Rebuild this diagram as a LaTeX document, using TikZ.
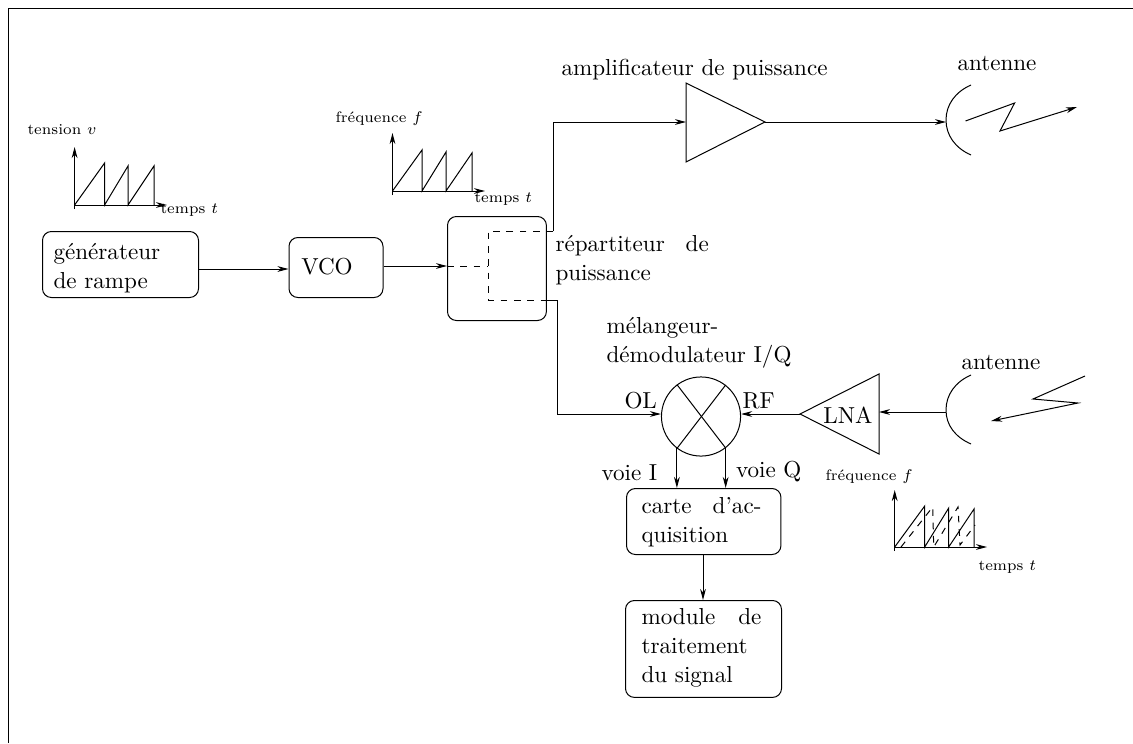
\documentclass[tikz,border=0pt]{standalone}
\usetikzlibrary{arrows.meta}
\tikzset{
  every node/.style={font=\fontsize{10.4}{13.2}\selectfont},
  boite/.style={draw, rounded corners=4pt, inner sep=0pt, anchor=north west},
  texte/.style={text width=#1, align=justify, inner sep=0pt, anchor=north west},
  petit/.style={font=\fontsize{6.8}{8}\selectfont, inner sep=0pt},
}
\begin{document}
\begin{tikzpicture}[x=0.45pt, y=-0.45pt, line width=0.45pt, >={Stealth[length=5pt,width=2.6pt,inset=1.6pt]}]
  \useasboundingbox (0,0) rectangle (1133,743);
  \draw (8,743) -- (8,8) -- (1133,8);
  % blocs
  \node[boite, minimum width=70.2pt, minimum height=29.7pt] (gen) at (42,231) {};
  \node[texte=60pt, anchor=west] (gentxt) at (53,268) {g\'en\'erateur\\ de rampe};
  \node[boite, minimum width=42.3pt, minimum height=27pt] (vco) at (288.5,237) {};
  \node[inner sep=0pt] (vcotxt) at (327,267) {VCO};
  \node[boite, minimum width=44.5pt, minimum height=46.8pt] (rep) at (447,216) {};
  \node[texte=69pt, anchor=west] (reptxt) at (555,260) {r\'epartiteur de puissance};
  \node[boite, minimum width=69.5pt, minimum height=29.7pt] (carte) at (626,488) {};
  \node[texte=54pt, anchor=west] (cartetxt) at (641,522) {carte d'ac\-quisition};
  \node[boite, minimum width=70.2pt, minimum height=43.6pt] (mod) at (625,600) {};
  \node[texte=54pt, anchor=west] (modtxt) at (641,648) {module de traitement du signal};
  \node[draw, circle, minimum size=35.6pt, inner sep=0pt] (mel) at (701,416.5) {};
  \draw (mel.127.3) -- (mel.-52.7);
  \draw (mel.52.7) -- (mel.-127.3);
  % amplificateurs
  \coordinate (ampin) at (686,122);
  \coordinate (ampout) at (765,122);
  \draw (686,83) -- (ampout) -- (686,162) -- cycle;
  \coordinate (lnain) at (879,412);
  \coordinate (lnaout) at (800,414);
  \draw (879,374) -- (lnaout) -- (879,454) -- cycle;
  \node[inner sep=0pt] (lna) at (848,415) {LNA};
  % antennes
  \coordinate (anttx) at (946,122);
  \coordinate (antrx) at (946,412);
  \draw (971,85) .. controls (955,92) and (946,105) .. (946,120) .. controls (946,135) and (955,148) .. (971,155);
  \draw (971,375) .. controls (955,382) and (946,395) .. (946,410) .. controls (946,425) and (955,437) .. (971,444);
  \draw[->] (965.5,121) -- (1014.6,103) -- (1000,131) -- (1077,107);
  \draw[->] (1085,376) -- (1033,399) -- (1078,403) -- (991,421);
  % liaisons
  \coordinate (vcoin) at (288.5,269);
  \coordinate (repin) at (447,266);
  \coordinate (dhaut) at (488,231);
  \coordinate (dbas) at (488,300);
  \draw[->] (gen.east |- vcoin) -- (vcoin);
  \draw[->] (vco.east |- repin) -- (repin);
  \draw[dashed] (repin) -- (dhaut |- repin);
  \draw[dashed] (553,231) -- (dhaut) -- (dbas) -- (rep.east |- dbas);
  \draw[->] (553,231) -- (553,122) -- (ampin);
  \draw[->] (ampout) -- (anttx);
  \draw[->] (rep.east |- dbas) -- (557,300) -- (557,414) -- (mel.west |- lnaout);
  \draw[->] (lnaout) -- (mel.east |- lnaout);
  \draw[->] (antrx) -- (lnain);
  \draw[->] (mel.-127.3) -- (mel.-127.3 |- carte.north);
  \draw[->] (mel.-52.7) -- (mel.-52.7 |- carte.north);
  \draw[->] (carte.south -| 703,0) -- (mod.north -| 703,0);
  % textes
  \node[inner sep=0pt, anchor=west] (tamp) at (561,70) {amplificateur de puissance};
  \node[inner sep=0pt, anchor=west] (tant) at (957,64) {antenne};
  \node[inner sep=0pt, anchor=west] (tanr) at (961,363) {antenne};
  \node[inner sep=0pt, anchor=west] (tmel) at (606,342) {\begin{tabular}{@{}l@{}}m\'elangeur-\\d\'emodulateur I/Q\end{tabular}};
  \node[inner sep=0pt, anchor=west] (tol) at (624,401) {OL};
  \node[inner sep=0pt, anchor=west] (trf) at (742,401) {RF};
  \node[inner sep=0pt, anchor=west] (tvi) at (601,473) {voie I};
  \node[inner sep=0pt, anchor=west] (tvq) at (735.5,472) {voie Q};
  % courbes
  \draw[->] (74.6,209) -- (74.6,147);
  \draw[->] (74.6,205) -- (167,205);
  \draw (74.6,205) -- (104.6,163) -- (104.6,205) -- (128,166) -- (128,205) -- (154,166) -- (154,205);
  \node[petit, anchor=west] (tv) at (27,130) {tension $v$};
  \node[petit, anchor=west] (tt1) at (160,210) {temps $t$};
  \draw[->] (392.5,195) -- (392.5,133);
  \draw[->] (392.5,191) -- (485,191);
  \draw (392.5,191) -- (422,150) -- (422,191) -- (446,152) -- (446,191) -- (472,153) -- (472,191);
  \node[petit, anchor=west] (tf1) at (335,119) {fr\'equence $f$};
  \node[petit, anchor=west] (tt2) at (474,199) {temps $t$};
  \draw[->] (894.7,551) -- (894.7,490);
  \draw[->] (894.7,547) -- (987,547);
  \draw (894.7,547) -- (924.7,506) -- (924.7,547) -- (948.7,508) -- (948.7,547) -- (974,509) -- (974,547);
  \draw[dashed] (901,547) -- (932.7,507) -- (933.7,547) -- (958,507) -- (960,545) -- (975,525);
  \node[petit, anchor=west] (tf2) at (825,477) {fr\'equence $f$};
  \node[petit, anchor=west] (tt3) at (978,567) {temps $t$};
\end{tikzpicture}
\end{document}
